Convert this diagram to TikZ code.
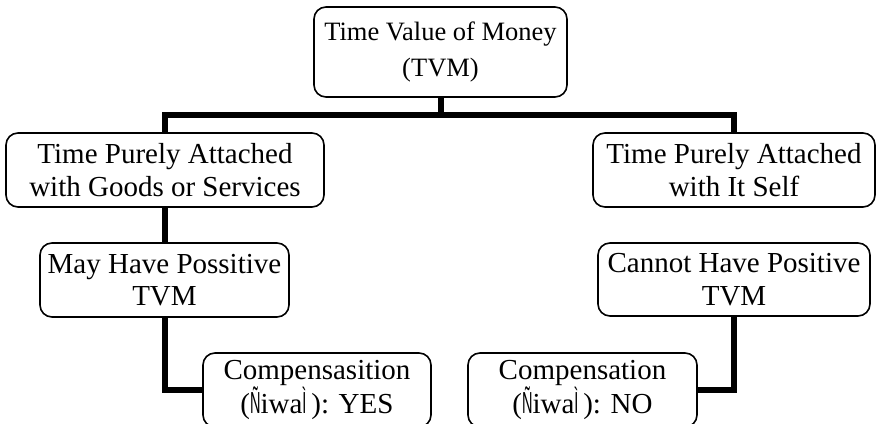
\documentclass[tikz,border=0pt]{standalone}
\usepackage{fontspec}
\usepackage{graphicx}
\setmainfont{Liberation Serif}
\newfontfamily\narrowsans{Liberation Sans}
\newcommand\nrw[1]{\scalebox{0.5}[1.05]{\narrowsans #1}}
\tikzset{
  box/.style={draw, line width=1.6pt, rounded corners=12pt, fill=white, align=center,
    inner sep=0pt, font=\fontsize{29}{32.5}\selectfont},
  conn/.style={line width=6pt, line join=miter}
}
\begin{document}
\begin{tikzpicture}[x=1pt,y=-1pt]
\clip (0,0) rectangle (877,423);
\fill[white] (0,0) rectangle (877,423);
\node[box, minimum width=253pt, minimum height=90pt, font=\fontsize{26.5}{36}\selectfont] (top) at (440.5,52) {Time Value of Money\\(TVM)};
\node[box, minimum width=318pt, minimum height=74pt] (L2) at (165,170) {Time Purely Attached\\with Goods or Services};
\node[box, minimum width=282pt, minimum height=74pt] (R2) at (734,170) {Time Purely Attached\\with It Self};
\node[box, minimum width=249pt, minimum height=74pt] (L3) at (164.5,280) {May Have Possitive\\TVM};
\node[box, minimum width=272pt, minimum height=73pt] (R3) at (734,279.5) {Cannot Have Positive\\TVM};
\node[box, minimum width=228pt, minimum height=74pt] (BL) at (317,390) {Compensasition\\(\nrw{Ñ}iwa\nrw{Ì}\,): YES};
\node[box, minimum width=229pt, minimum height=74pt] (BR) at (582.5,390) {Compensation\\(\nrw{Ñ}iwa\nrw{Ì}\,): NO};
\coordinate (j) at (440.5,115);
\draw[conn] (top.south) -- (j);
\draw[conn] (L2.north) |- (j) -| (R2.north);
\draw[conn] (L2.south) -- (L2.south |- L3.north);
\draw[conn] (L3.south) |- (BL.west);
\draw[conn] (R3.south) |- (BR.east);
\end{tikzpicture}
\end{document}
